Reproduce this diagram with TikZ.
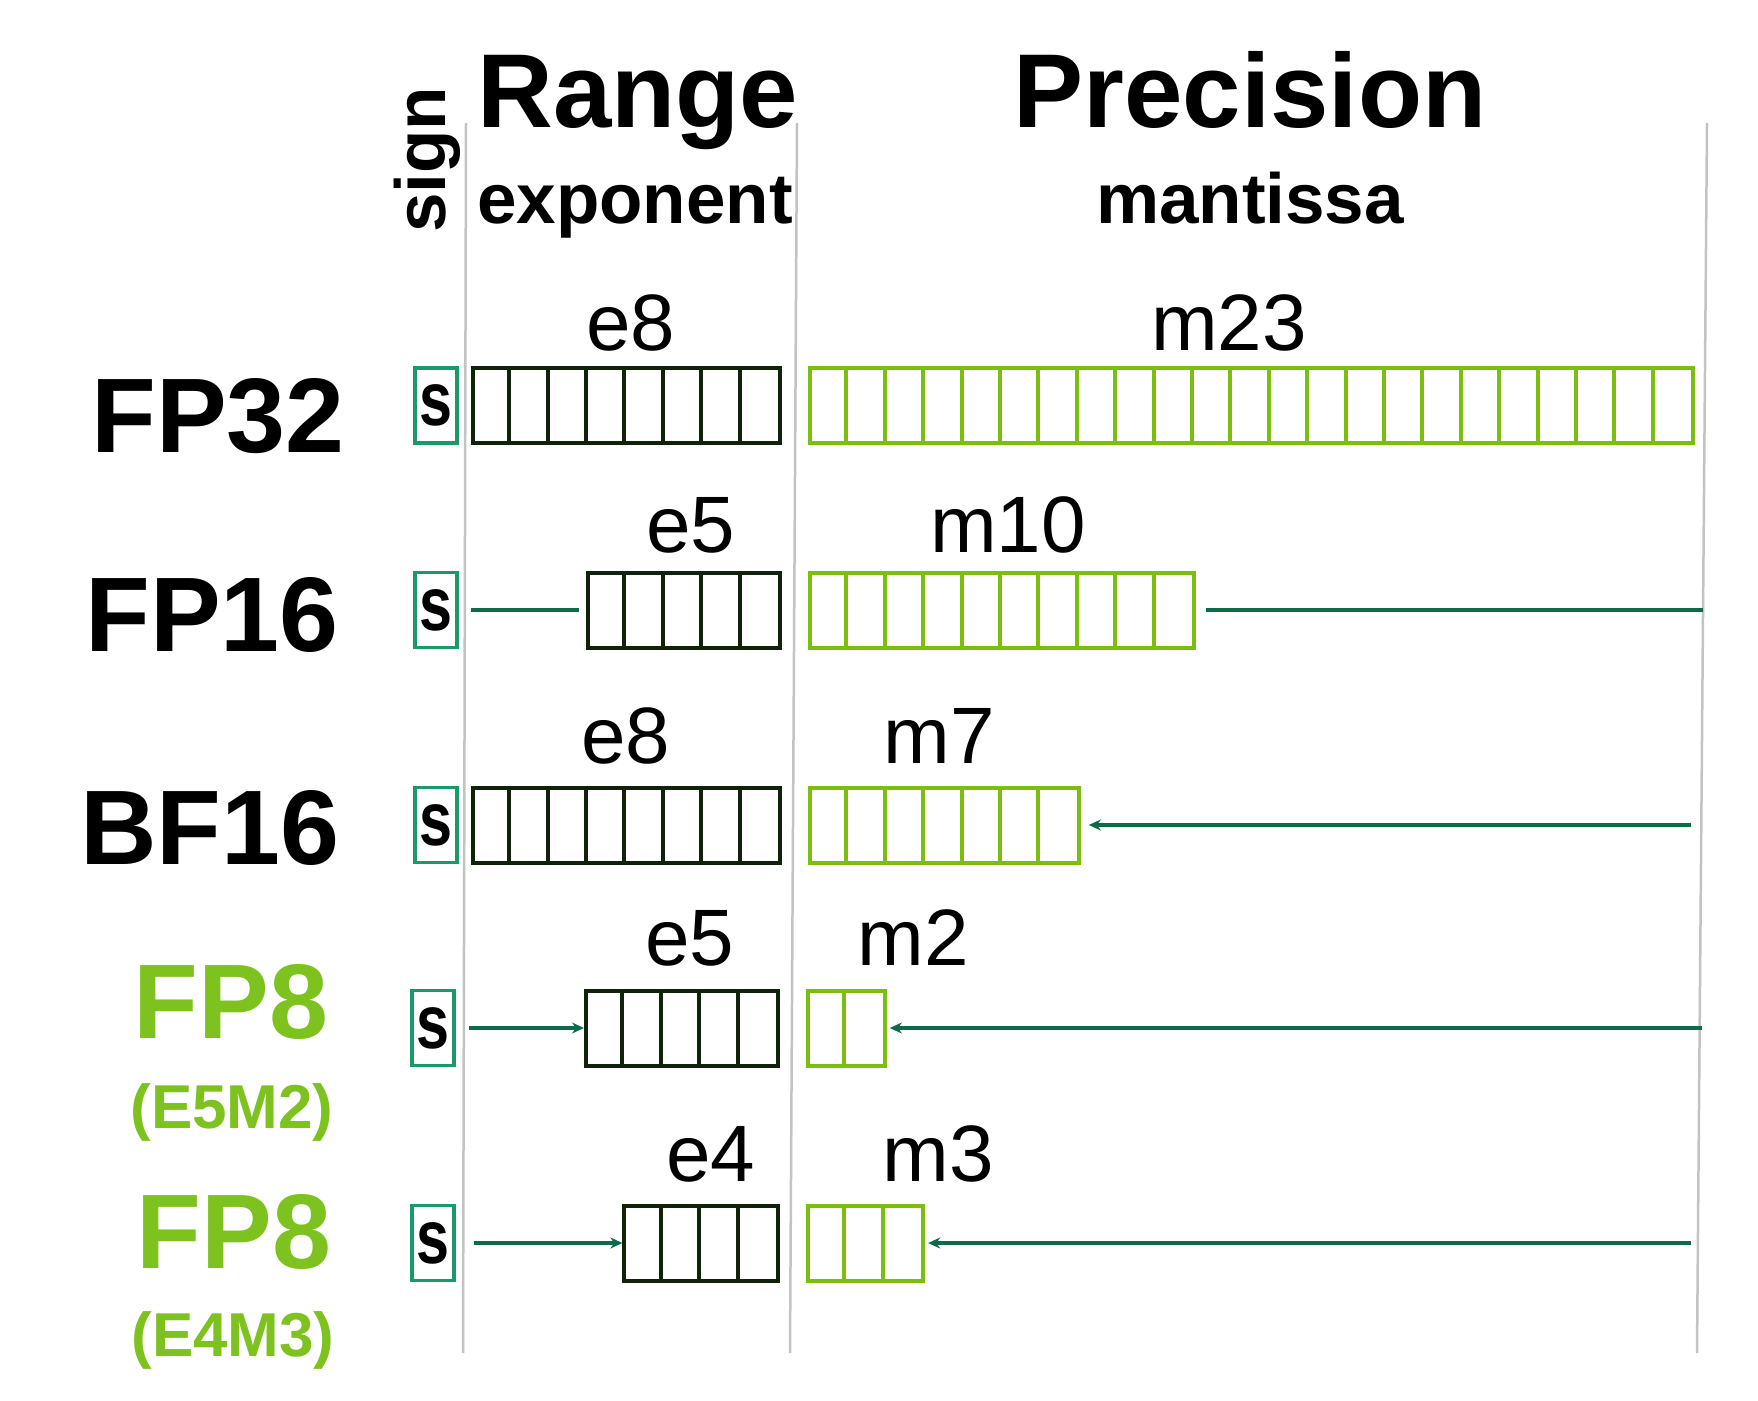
\documentclass[tikz,border=0pt]{standalone}
\usepackage{fontspec}
\setmainfont{Liberation Sans}
\usepackage{graphicx}
\usepackage{tikz}
\usetikzlibrary{arrows.meta}

\definecolor{expcol}{RGB}{16,34,10}
\definecolor{mancol}{RGB}{124,190,14}
\definecolor{signcol}{RGB}{26,154,104}
\definecolor{linkcol}{RGB}{13,107,72}
\definecolor{fpeight}{RGB}{125,194,30}
\definecolor{rulecol}{RGB}{195,195,195}

\newcommand{\typefont}{\fontsize{106pt}{110pt}\selectfont\bfseries}
\newcommand{\typesubfont}{\fontsize{62pt}{70pt}\selectfont\bfseries}
\newcommand{\headbigfont}{\fontsize{105pt}{110pt}\selectfont\bfseries}
\newcommand{\headsmallfont}{\fontsize{71pt}{80pt}\selectfont\bfseries}
\newcommand{\countfont}{\fontsize{80pt}{90pt}\selectfont}
\newcommand{\signfont}{\fontsize{76pt}{80pt}\selectfont\bfseries}
\newcommand{\signletter}{\scalebox{0.78}[1]{s}}

\newcommand{\cellw}{38.4pt}
% register: name, colour, number of cells, anchor, position
\newcommand{\bitfield}[5]{%
  \node[field, draw=#2, minimum width={#3*\cellw}, anchor=#4] (#1) at (#5) {};
  \pgfmathtruncatemacro{\lastcell}{#3-1}
  \foreach \i in {1,...,\lastcell}
    \draw[#2, line width=4pt] ([xshift=\i*\cellw]#1.north west) -- ([xshift=\i*\cellw]#1.south west);
}

\tikzset{
  field/.style={minimum height=75pt, inner sep=0pt, line width=4pt},
  signbit/.style={draw=signcol, line width=3.5pt, minimum width=42pt, minimum height=75pt, inner sep=0pt, font=\signfont},
  link/.style={draw=linkcol, line width=4.5pt},
  tip/.style={-{Stealth[length=12pt,width=11pt]}},
  rule/.style={draw=rulecol, line width=2.5pt},
}

\begin{document}
\begin{tikzpicture}[x=1pt, y=-1pt]
  \useasboundingbox (0,0) rectangle (1758,1400);

  % column rules
  \draw[rule] (466,123) -- (463,1353);
  \draw[rule] (797,123) -- (790,1353);
  \draw[rule] (1707,123) -- (1697,1353);

  % headings
  \node[rotate=90, anchor=base west, inner sep=0pt, font=\headsmallfont] (hsign) at (445,233) {sign};
  \node[anchor=base west, inner sep=0pt, font=\headbigfont] (hrange) at (477,127) {Range};
  \node[anchor=base west, inner sep=0pt, font=\headsmallfont] (hexp) at (477,223) {exponent};
  \node[anchor=base, inner sep=0pt, font=\headbigfont] (hprec) at (1250,127) {Precision};
  \node[anchor=base, inner sep=0pt, font=\headsmallfont] (hman) at (1250,223) {mantissa};

  % format names
  \node[anchor=base, inner sep=0pt, font=\typefont] (n32) at (218,452) {FP32};
  \node[anchor=base, inner sep=0pt, font=\typefont] (n16) at (212,651) {FP16};
  \node[anchor=base, inner sep=0pt, font=\typefont] (nbf) at (210,864) {BF16};
  \node[anchor=base, inner sep=0pt, font=\typefont, text=fpeight] (n52) at (231,1038) {FP8};
  \node[anchor=base, inner sep=0pt, font=\typesubfont, text=fpeight] (n52b) at (232,1128) {(E5M2)};
  \node[anchor=base, inner sep=0pt, font=\typefont, text=fpeight] (n43) at (234,1268) {FP8};
  \node[anchor=base, inner sep=0pt, font=\typesubfont, text=fpeight] (n43b) at (233,1356) {(E4M3)};

  % sign bits
  \node[signbit] (s32) at (436,405.5) {\signletter};
  \node[signbit] (s16) at (436,610) {\signletter};
  \node[signbit] (sbf) at (436,825) {\signletter};
  \node[signbit] (s52) at (433,1028) {\signletter};
  \node[signbit] (s43) at (433,1243) {\signletter};

  % exponent and mantissa bits
  \bitfield{e32}{expcol}{8}{east}{782,405.5}
  \bitfield{m32}{mancol}{23}{west}{808,405.5}
  \bitfield{e16}{expcol}{5}{east}{782,610}
  \bitfield{m16}{mancol}{10}{west}{808,610}
  \bitfield{ebf}{expcol}{8}{east}{782,825}
  \bitfield{mbf}{mancol}{7}{west}{808,825}
  \bitfield{e52}{expcol}{5}{east}{780,1028}
  \bitfield{m52}{mancol}{2}{west}{806,1028}
  \bitfield{e43}{expcol}{4}{east}{780,1243}
  \bitfield{m43}{mancol}{3}{west}{806,1243}

  % bit counts
  \node[anchor=base, inner sep=0pt, font=\countfont] (le32) at (631,350) {e8};
  \node[anchor=base, inner sep=0pt, font=\countfont] (lm32) at (1229,350) {m23};
  \node[anchor=base, inner sep=0pt, font=\countfont] (le16) at (691,552) {e5};
  \node[anchor=base, inner sep=0pt, font=\countfont] (lm16) at (1008,552) {m10};
  \node[anchor=base, inner sep=0pt, font=\countfont] (lebf) at (626,763) {e8};
  \node[anchor=base, inner sep=0pt, font=\countfont] (lmbf) at (939,763) {m7};
  \node[anchor=base, inner sep=0pt, font=\countfont] (le52) at (690,965) {e5};
  \node[anchor=base, inner sep=0pt, font=\countfont] (lm52) at (913,965) {m2};
  \node[anchor=base, inner sep=0pt, font=\countfont] (le43) at (711,1181) {e4};
  \node[anchor=base, inner sep=0pt, font=\countfont] (lm43) at (938,1181) {m3};

  % unused bits
  \coordinate (l16) at (471,610);
  \coordinate (r16) at (1703,610);
  \draw[link] (l16) -- ([xshift=-7pt]e16.west);
  \draw[link] ([xshift=10pt]m16.east) -- (r16);

  \coordinate (rbf) at (1691,825);
  \draw[link, tip] (rbf) -- ([xshift=8pt]mbf.east);

  \coordinate (l52) at (469,1028);
  \coordinate (r52) at (1702,1028);
  \draw[link, tip] (l52) -- (e52.west);
  \draw[link, tip] (r52) -- ([xshift=3pt]m52.east);

  \coordinate (l43) at (474,1243);
  \coordinate (r43) at (1691,1243);
  \draw[link, tip] (l43) -- (e43.west);
  \draw[link, tip] (r43) -- ([xshift=3pt]m43.east);
\end{tikzpicture}
\end{document}
